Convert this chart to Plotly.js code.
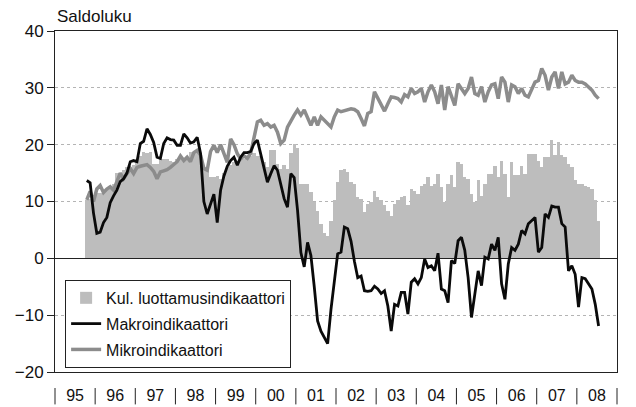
<!DOCTYPE html>
<html>
<head>
<meta charset="utf-8">
<script src="https://cdn.plot.ly/plotly-3.0.1.min.js"></script>
<style>html,body{margin:0;padding:0;background:#fff;}#chart{width:636px;height:407px;}</style>
</head>
<body>
<div id="chart"></div>
<script>
// Monthly series, October 1995 – July 2008
const startYear = 1995, startMonth = 10;
const yearLabels = ['95','96','97','98','99','00','01','02','03','04','05','06','07','08'];
const years = [1995,1996,1997,1998,1999,2000,2001,2002,2003,2004,2005,2006,2007,2008];

const kul = [
 10.2,10.5,11.0,11.5,11.5,12.0,12.0,12.5,13.0,15.0,
 15.0,15.5,16.0,16.0,16.5,17.5,18.0,18.7,18.5,18.7,
 16.6,16.6,17.5,17.5,17.5,17.2,17.0,17.5,17.5,17.5,
 17.8,18.7,18.7,19.3,18.5,16.0,15.5,14.3,14.3,14.5,
 14.0,15.0,16.0,16.5,17.0,17.0,17.5,17.5,18.0,18.0,
 18.5,18.0,18.0,17.0,16.0,19.0,19.0,16.6,15.8,16.5,
 15.8,18.5,20.2,19.5,13.1,13.1,13.1,11.6,9.9,8.4,
 6.0,4.5,4.0,6.6,10.2,13.4,15.5,15.8,15.2,13.4,
 13.1,10.8,10.5,8.1,9.6,9.9,11.9,10.8,10.2,9.3,
 8.4,7.5,9.6,10.2,10.8,11.0,9.3,12.2,11.9,11.3,
 12.8,13.1,14.3,12.8,13.1,14.9,12.5,9.9,13.1,14.6,
 12.5,16.9,16.6,14.3,14.0,11.3,9.9,13.7,11.0,13.1,
 14.9,14.9,16.3,14.3,17.2,14.9,10.8,16.9,14.6,14.6,
 16.3,14.9,18.4,18.4,18.4,17.2,16.0,17.8,17.8,20.8,
 18.1,20.5,18.1,17.8,16.6,16.0,13.7,13.1,13.1,12.8,
 12.5,12.2,10.2,6.6
];

const makro = [
 13.7,13.3,8.0,4.4,4.6,6.3,7.2,9.8,11.0,12.0,
 13.5,14.0,15.0,17.0,17.2,17.0,20.2,20.6,22.8,21.8,
 20.4,17.8,17.6,20.2,21.2,20.9,20.8,19.9,19.9,21.9,
 21.2,20.3,20.5,21.3,18.5,10.0,7.8,9.5,11.3,6.3,
 12.0,14.5,16.2,17.2,17.8,16.4,17.8,18.6,18.6,18.8,
 20.2,20.8,18.5,16.0,13.4,14.9,16.3,15.5,13.1,10.5,
 9.0,14.9,14.2,8.5,1.0,-1.5,2.8,0.5,-5.0,-11.0,
 -12.8,-13.8,-15.0,-9.0,-3.5,0.8,1.1,5.5,5.2,3.0,
 -0.5,-3.4,-3.1,-5.7,-5.8,-5.7,-4.9,-5.4,-6.2,-5.7,
 -8.4,-12.8,-8.1,-8.4,-6.0,-6.0,-9.8,-4.2,-3.6,-4.5,
 -3.4,-0.1,-1.6,-1.3,-2.2,0.9,-5.4,-5.7,-7.8,-0.4,
 -0.9,3.1,3.7,1.4,-3.4,-10.4,-6.3,-2.2,-4.8,0.2,
 -0.1,2.5,1.4,3.7,-4.5,-7.2,-1.0,1.9,1.4,2.5,
 4.9,4.3,6.1,6.6,7.2,1.1,1.9,7.8,7.2,9.2,
 9.0,9.0,6.1,5.5,-2.2,-1.3,-2.8,-8.6,-3.4,-3.6,
 -4.5,-5.4,-8.1,-11.9
];

const mikro = [
 10.3,11.8,10.0,12.2,12.8,11.6,12.2,12.6,12.0,13.5,
 15.0,14.0,15.0,15.8,14.9,16.0,16.2,16.3,16.5,16.0,
 15.3,14.0,15.2,15.4,15.6,16.0,16.5,17.0,18.0,17.2,
 17.8,17.0,18.6,19.0,18.2,15.8,15.5,18.8,19.9,18.6,
 20.0,18.3,16.9,21.0,20.0,18.4,17.5,18.0,17.6,18.5,
 21.5,24.0,24.3,23.4,23.7,23.1,23.4,22.2,20.2,20.8,
 23.1,24.3,25.2,26.1,25.2,26.1,24.8,23.4,24.9,23.4,
 24.9,24.3,23.7,23.1,24.9,26.1,25.8,26.0,26.2,26.3,
 26.2,25.8,24.6,23.3,25.5,25.8,29.3,28.1,26.9,25.9,
 27.2,28.4,28.3,28.1,27.5,28.8,28.4,29.9,29.0,29.3,
 29.9,27.5,29.3,30.5,29.3,27.2,30.5,26.1,30.2,28.7,
 26.9,30.7,29.9,29.0,29.9,31.9,29.0,28.7,30.2,27.5,
 29.3,30.5,30.7,28.1,31.9,31.0,27.5,30.5,30.2,29.0,
 29.9,28.7,28.4,29.9,31.0,31.3,33.4,32.2,29.6,31.9,
 32.8,29.9,32.8,30.7,31.0,32.2,31.3,31.0,31.0,30.7,
 30.2,29.6,28.7,28.1
];

// time position (decimal year, middle of each month)
const x = kul.map((_, k) => startYear + (startMonth - 1 + k + 0.5) / 12);

const FONT = 'Liberation Sans, Arial, sans-serif';
const xMin = 1995, xMax = 2009;

const traces = [
  {type:'bar', x:x, y:kul, name:'Kul. luottamusindikaattori', width:1/12,
   marker:{color:'#bdbdbd', line:{width:0}}, legendrank:1, legendgroup:'a', hoverinfo:'skip'},
  {type:'scatter', mode:'lines', x:x, y:mikro, name:'Mikroindikaattori',
   line:{color:'#8c8c8c', width:3.5}, legendrank:3, legendgroup:'c'},
  {type:'scatter', mode:'lines', x:x, y:makro, name:'Makroindikaattori',
   line:{color:'#0a0a0a', width:2.8}, legendrank:2, legendgroup:'b'}
];

const shapes = [];
for (let k = 0; k <= years.length; k++) {
  const px = k / years.length;
  shapes.push({type:'line', xref:'paper', yref:'paper', x0:px, x1:px, y0:-0.047, y1:-0.095,
               line:{color:'#222', width:1}});
}

const layout = {
  width:636, height:407,
  margin:{l:55, r:19, t:31, b:35},
  paper_bgcolor:'#fff', plot_bgcolor:'#fff',
  font:{family:FONT, size:17, color:'#111'},
  bargap:0,
  showlegend:true,
  legend:{x:0.018, y:0.27, xanchor:'left', yanchor:'top', bgcolor:'#fff',
          bordercolor:'#222', borderwidth:1, font:{family:FONT, size:16, color:'#111'},
          tracegroupgap:2, traceorder:'grouped', itemwidth:30},
  xaxis:{range:[xMin, xMax], tickvals:years.map(y => y + 0.5), ticktext:yearLabels,
         ticks:'outside', ticklen:9, tickcolor:'rgba(0,0,0,0)', showgrid:false, zeroline:false,
         showline:true, mirror:true, linecolor:'#222', linewidth:1,
         tickfont:{family:FONT, size:16, color:'#111'}, fixedrange:true},
  yaxis:{range:[-20, 40], dtick:10, tick0:0, ticks:'outside', ticklen:7, tickcolor:'#222',
         showline:true, mirror:true, linecolor:'#222', linewidth:1,
         showgrid:true, gridcolor:'#b4b4b4', griddash:'dot', gridwidth:1,
         zeroline:true, zerolinecolor:'#222', zerolinewidth:1,
         tickfont:{family:FONT, size:17, color:'#111'}, fixedrange:true},
  shapes:shapes,
  annotations:[{text:'Saldoluku', xref:'paper', yref:'paper', x:0, y:1, xanchor:'left', yanchor:'bottom',
                yshift:3, showarrow:false, font:{family:FONT, size:17, color:'#111'}}]
};

Plotly.newPlot('chart', traces, layout, {displayModeBar:false, staticPlot:true});
</script>
</body>
</html>
